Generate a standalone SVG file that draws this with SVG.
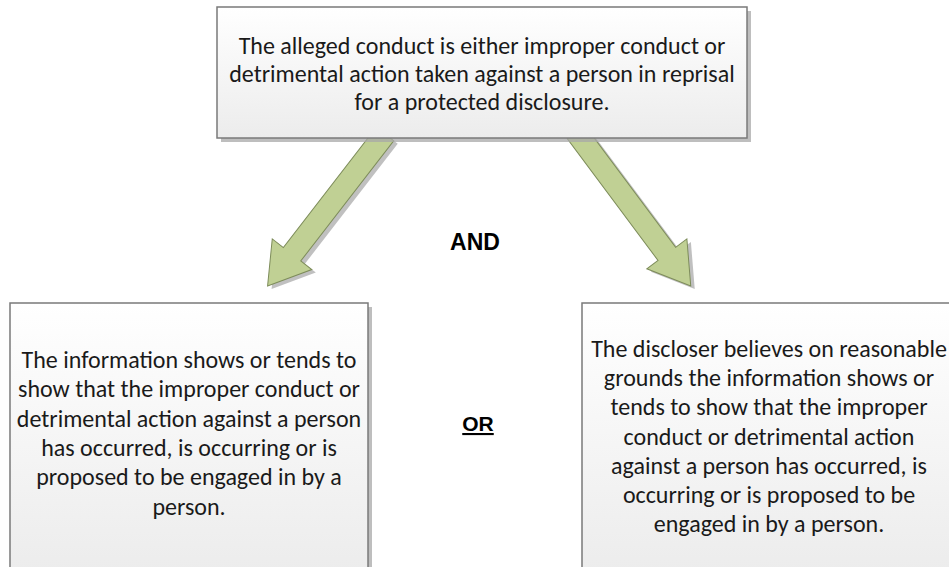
<svg xmlns="http://www.w3.org/2000/svg" width="949" height="567" viewBox="0 0 949 567">
  <style>
    .box { stroke: #7a7a7a; stroke-width: 1.5; }
    .shadow { fill: #a8a8a8; opacity: 0.75; }
    .txt { font-family: Carlito, Lato, "Liberation Sans", sans-serif; font-size: 24px; fill: #1a1a1a; text-anchor: middle; }
    .lbl { font-family: "Liberation Sans", Arial, sans-serif; font-weight: bold; fill: #000; text-anchor: middle; }
    .arrow { fill: #c0d094; stroke: #7d8c5a; stroke-width: 1; }
    .ashadow { fill: #8c8c8c; opacity: 0.55; }
  </style>
  <defs>
    <linearGradient id="g" x1="0" y1="0" x2="0" y2="1">
      <stop offset="0" stop-color="#ffffff"/>
      <stop offset="1" stop-color="#ececec"/>
    </linearGradient>
    <polygon id="arr" points="-11,0 11,0 11,152 25,152 0,192 -25,152 -11,152"/>
  </defs>
  <rect width="949" height="567" fill="#ffffff"/>

  <g id="connectors">
    <g id="arrow-left">
      <use href="#arr" class="ashadow" transform="translate(389,137) rotate(37.7)"/>
      <use href="#arr" class="arrow" transform="translate(385,134) rotate(37.7)"/>
    </g>
    <g id="arrow-right">
      <use href="#arr" class="ashadow" transform="translate(580,135) rotate(-36.7)"/>
      <use href="#arr" class="arrow" transform="translate(576,132) rotate(-36.7)"/>
    </g>
  </g>

  <g id="top">
    <rect class="shadow" x="221" y="11" width="530" height="131"/>
    <rect class="box" x="217" y="7" width="530" height="131" fill="url(#g)"/>
    <text class="txt" x="482" y="54">The alleged conduct is either improper conduct or</text>
    <text class="txt" x="482" y="82">detrimental action taken against a person in reprisal</text>
    <text class="txt" x="482" y="110">for a protected disclosure.</text>
  </g>

  <g id="and-label">
    <text class="lbl" x="475" y="250" font-size="23">AND</text>
  </g>

  <g id="left">
    <rect class="shadow" x="14" y="307" width="358" height="270"/>
    <rect class="box" x="10" y="303" width="358" height="270" fill="url(#g)"/>
    <text class="txt" x="189" y="368">The information shows or tends to</text>
    <text class="txt" x="189" y="397.3">show that the improper conduct or</text>
    <text class="txt" x="189" y="426.6">detrimental action against a person</text>
    <text class="txt" x="189" y="456">has occurred, is occurring or is</text>
    <text class="txt" x="189" y="485.2">proposed to be engaged in by a</text>
    <text class="txt" x="189" y="514.5">person.</text>
  </g>

  <g id="or-label">
    <text class="lbl" x="478" y="431" font-size="21" text-decoration="underline">OR</text>
  </g>

  <g id="right">
    <rect class="shadow" x="586" y="307" width="380" height="270"/>
    <rect class="box" x="582" y="303" width="380" height="270" fill="url(#g)"/>
    <text class="txt" x="769" y="357">The discloser believes on reasonable</text>
    <text class="txt" x="769" y="386.2">grounds the information shows or</text>
    <text class="txt" x="769" y="415.4">tends to show that the improper</text>
    <text class="txt" x="769" y="444.6">conduct or detrimental action</text>
    <text class="txt" x="769" y="473.8">against a person has occurred, is</text>
    <text class="txt" x="769" y="503">occurring or is proposed to be</text>
    <text class="txt" x="769" y="532.2">engaged in by a person.</text>
  </g>
</svg>
